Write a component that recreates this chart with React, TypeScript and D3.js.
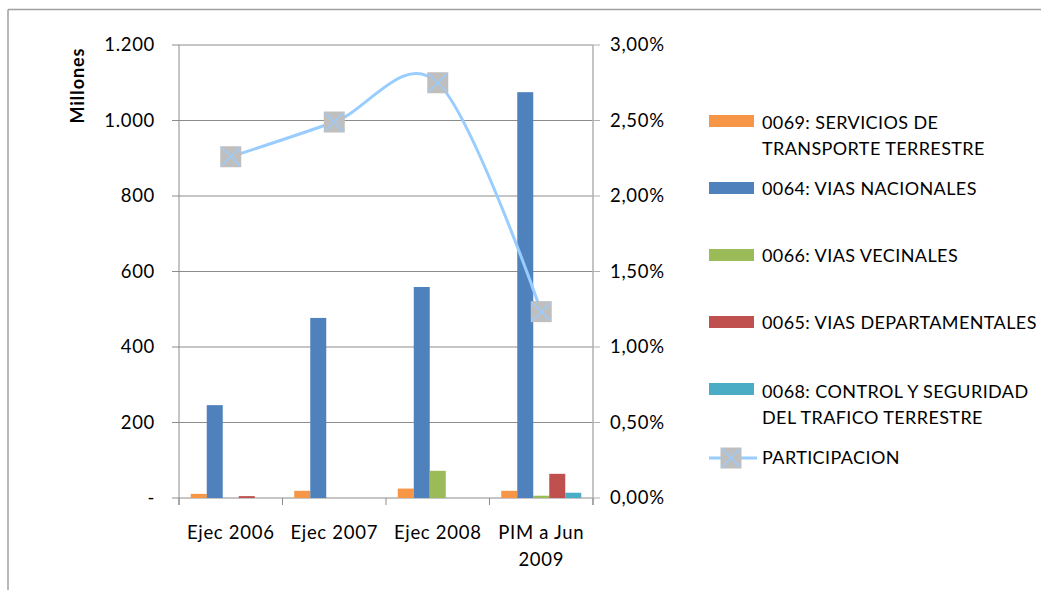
import React from "react";
import * as d3 from "d3";

const categories: string[][] = [["Ejec 2006"], ["Ejec 2007"], ["Ejec 2008"], ["PIM a Jun", "2009"]];
const seriesNames: string[][] = [
  ["0069: SERVICIOS DE", "TRANSPORTE TERRESTRE"],
  ["0064: VIAS NACIONALES"],
  ["0066: VIAS VECINALES"],
  ["0065: VIAS DEPARTAMENTALES"],
  ["0068: CONTROL Y SEGURIDAD", "DEL TRAFICO TERRESTRE"],
];
const seriesColors: string[] = ["#F79646", "#4F81BD", "#9BBB59", "#C0504D", "#4BACC6"];
const s0069: number[] = [11, 19, 25, 19];
const s0064: number[] = [246, 477, 559, 1075];
const s0066: number[] = [0, 0, 72, 6];
const s0065: number[] = [5, 0, 0, 64];
const s0068: number[] = [0, 0, 0, 14];
const participacion: number[] = [0.0226, 0.0249, 0.0275, 0.01234];
const leftTicks: number[] = [0, 200, 400, 600, 800, 1000, 1200];
const rightTicks: number[] = [0, 0.005, 0.01, 0.015, 0.02, 0.025, 0.03];
const lineName = "PARTICIPACION";

const FONT = "Lato, 'Open Sans', sans-serif";

export default function App() {
  const series = [s0069, s0064, s0066, s0065, s0068];
  const left = 179, right = 593, top = 45, bottom = 498;
  const x = d3.scaleBand<number>().domain(d3.range(categories.length)).range([left, right]).paddingInner(0).paddingOuter(0);
  const bw = 16;
  const groupPad = (x.bandwidth() - bw * series.length) / 2;
  const y = d3.scaleLinear().domain([0, 1200]).range([bottom, top]);
  const y2 = d3.scaleLinear().domain([0, 0.03]).range([bottom, top]);
  const fmtL = (v: number) => (v === 0 ? "-" : d3.format(",")(v).replace(/,/g, "."));
  const fmtR = (v: number) => (v * 100).toFixed(2).replace(".", ",") + "%";
  const pts: [number, number][] = participacion.map((v, i) => [x(i)! + x.bandwidth() / 2, y2(v)]);
  const linePath = d3.line().curve(d3.curveCatmullRom.alpha(0))(pts) || "";
  const grid = "#8C8C8C";
  const axisLS = 0.7;
  const legLS = 0.4;

  const legendX = 709;
  const legendItems = [
    { sy: 121, ty: [123, 149] },
    { sy: 188, ty: [189] },
    { sy: 255, ty: [256] },
    { sy: 322, ty: [323] },
    { sy: 389, ty: [392, 418] },
  ];

  const marker = (cx: number, cy: number, key: string) => (
    <g key={key}>
      <rect x={cx - 10.5} y={cy - 10.5} width={21} height={21} fill="#BFBFBF" />
      <line x1={cx - 9} y1={cy - 9} x2={cx + 9} y2={cy + 9} stroke="#99CCFF" strokeWidth={1.5} />
      <line x1={cx - 9} y1={cy + 9} x2={cx + 9} y2={cy - 9} stroke="#99CCFF" strokeWidth={1.5} />
    </g>
  );

  return (
    <svg width={1041} height={590} style={{ position: "absolute", left: 0, top: 0, background: "#fff" }} fontFamily={FONT}>
      <rect x={0} y={0} width={1041} height={590} fill="#fff" />
      {/* frame */}
      <line x1={8} y1={9.5} x2={1041} y2={9.5} stroke="#A0A0A0" strokeWidth={1.5} />
      <line x1={8} y1={9.5} x2={8} y2={590} stroke="#A0A0A0" strokeWidth={1.5} />

      {/* gridlines */}
      {leftTicks.map((t) => (
        <line key={"g" + t} x1={left - 7} x2={right} y1={y(t)} y2={y(t)} stroke={grid} strokeWidth={1} />
      ))}
      <line x1={left} x2={left} y1={top} y2={bottom + 7} stroke={grid} />
      <line x1={right} x2={right} y1={top} y2={bottom + 7} stroke="#B0B0B0" strokeWidth={1.5} />
      {rightTicks.map((t) => (
        <line key={"rt" + t} x1={right} x2={right + 7} y1={y2(t)} y2={y2(t)} stroke="#B0B0B0" />
      ))}
      {d3.range(categories.length + 1).map((i) => {
        const xx = i < categories.length ? x(i)! : right;
        return <line key={"xt" + i} x1={xx} x2={xx} y1={bottom} y2={bottom + 7} stroke={grid} />;
      })}

      {/* bars */}
      {series.map((s, si) =>
        s.map((v, ci) => (
          <rect
            key={`b${si}-${ci}`}
            x={x(ci)! + groupPad + si * bw}
            y={y(v)}
            width={bw}
            height={bottom - y(v)}
            fill={seriesColors[si]}
          />
        ))
      )}

      {/* line */}
      <path d={linePath} fill="none" stroke="#99CCFF" strokeWidth={3} />
      {pts.map((p, i) => marker(p[0], p[1], "m" + i))}

      {leftTicks.map((t) => (
        <text key={"lt" + t} x={155} y={y(t)} dy="0.35em" textAnchor="end" fontSize={18.5} letterSpacing={axisLS} fill="#000">
          {fmtL(t)}
        </text>
      ))}
      {rightTicks.map((t) => (
        <text key={"rl" + t} x={610} y={y2(t)} dy="0.35em" textAnchor="start" fontSize={18.5} letterSpacing={axisLS} fill="#000">
          {fmtR(t)}
        </text>
      ))}
      {categories.map((c, i) =>
        c.map((line, li) => (
          <text key={`c${i}-${li}`} x={x(i)! + x.bandwidth() / 2} y={533 + li * 27} dy="0.35em" textAnchor="middle" fontSize={18.5} letterSpacing={axisLS} fill="#000">
            {line}
          </text>
        ))
      )}
      <text transform="translate(78,86) rotate(-90)" textAnchor="middle" dy="0.35em" fontSize={18} fontWeight="bold" textLength={75} lengthAdjust="spacing" fill="#000">
        Millones
      </text>

      {/* legend */}
      {legendItems.map((it, i) => (
        <g key={"lg" + i}>
          <rect x={legendX} y={it.sy - 6} width={45} height={12} fill={seriesColors[i]} />
          {seriesNames[i].map((ln, li) => (
            <text key={li} x={762} y={it.ty[li]} dy="0.35em" fontSize={18} letterSpacing={legLS} fill="#000">
              {ln}
            </text>
          ))}
        </g>
      ))}
      <line x1={legendX} x2={legendX + 48} y1={458} y2={458} stroke="#99CCFF" strokeWidth={3} />
      {marker(731, 458, "lgm")}
      <text x={762} y={458} dy="0.35em" fontSize={18} letterSpacing={legLS} fill="#000">
        {lineName}
      </text>
    </svg>
  );
}
